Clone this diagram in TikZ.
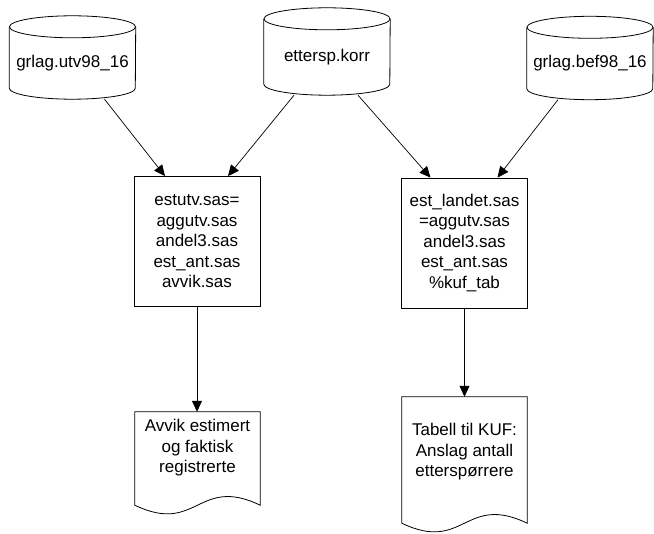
\documentclass[tikz,border=0pt]{standalone}
\usepackage{fontspec}
\setmainfont{Liberation Sans}
\usetikzlibrary{positioning,arrows.meta}

\tikzset{
    db/.style={minimum width=126pt, minimum height=72pt, inner sep=0pt},
    prog/.style={draw, line width=0.8pt, minimum width=126pt, minimum height=130pt, inner sep=0pt, align=center},
    doc/.style={minimum width=125pt, inner sep=0pt, align=center},
    flow/.style={-{Triangle[length=11pt,width=10pt]}, line width=0.7pt}
}

\begin{document}
\begin{tikzpicture}[x=1pt, y=-1pt, font=\fontsize{17pt}{20.5pt}\selectfont]
    \useasboundingbox (0,0) rectangle (654,534);
    % Nodes
    \node[db] (utv) at (72.5,63) {grlag.utv98\_16};
    \node[db, minimum height=76pt] (korr) at (327,57) {ettersp.korr};
    \node[db] (bef) at (590,63.5) {grlag.bef98\_16};
    \node[prog] (estutv) at (197,241.5) {estutv.sas=\\aggutv.sas\\andel3.sas\\est\_ant.sas\\avvik.sas};
    \node[prog] (landet) at (464.5,243) {est\_landet.sas\\=aggutv.sas\\andel3.sas\\est\_ant.sas\\\%kuf\_tab};
    \node[doc, minimum height=72pt] (avvik) at (197.5,448) {Avvik estimert\\og faktisk\\registrerte};
    \node[doc, minimum height=110pt] (kuf) at (464.5,452) {Tabell til KUF:\\Anslag antall\\etterspørrere};
    % Cylinders
    \foreach \n in {utv,korr,bef} {
        \draw[line width=0.8pt] (\n.north) ellipse [x radius=63pt, y radius=11pt];
        \draw[line width=0.8pt] (\n.north west) -- ([yshift=11pt]\n.south west)
            arc[start angle=180, end angle=360, x radius=63pt, y radius=11pt] -- (\n.north east);
    }
    % Documents
    \foreach \n/\e in {avvik/21pt, kuf/16pt} {
        \draw[line width=0.8pt] (\n.north west) -- ([yshift=-\e]\n.south west)
            .. controls +(62.5pt,-30pt) and +(-62.5pt,30pt) .. ([yshift=-\e]\n.south east)
            -- (\n.north east) -- cycle;
    }
    % Arrows
    \draw[flow] ([xshift=32pt]utv.south) -- ([xshift=-32pt]estutv.north);
    \draw[flow] ([xshift=-33pt]korr.south) -- ([xshift=31pt]estutv.north);
    \draw[flow] ([xshift=31pt]korr.south) -- ([xshift=-34pt]landet.north);
    \draw[flow] ([xshift=-32pt]bef.south) -- ([xshift=33pt]landet.north);
    \draw[flow] (estutv.south) -- (estutv.south |- avvik.north);
    \draw[flow] (landet.south) -- (landet.south |- kuf.north);
\end{tikzpicture}
\end{document}
